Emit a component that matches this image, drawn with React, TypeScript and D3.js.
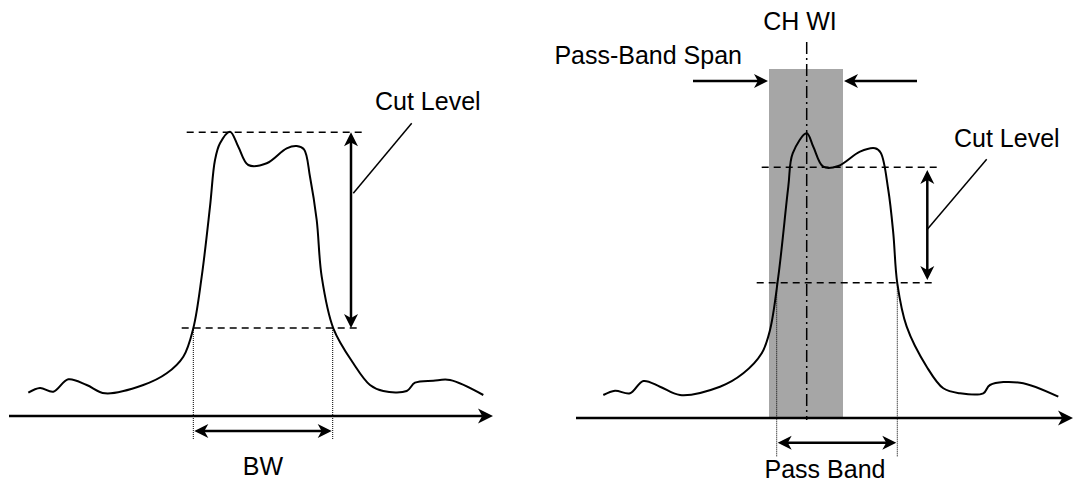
import React from "react";
import * as d3 from "d3";

// Spectrum traces: [frequency offset, level] in panel units (axis at level 0)
const leftTrace: [number, number][] = [
  [18.3, 23.3], [30, 28], [43.3, 24.3], [58.3, 36.7], [76.7, 31], [95, 22.7],
  [133.3, 31], [156.7, 42.7], [173.3, 59.3], [183.3, 87.7], [191.7, 139.3],
  [200, 209.3], [205, 256], [210, 272.7], [220, 284.3], [228.3, 269.3],
  [238.3, 251], [256.7, 252.7], [276.7, 267.7], [286.7, 270], [294, 266.7],
  [300, 239.3], [306.7, 196], [311.7, 139.3], [323.3, 87.7], [343.3, 52.7],
  [360, 31], [373.3, 25], [396.7, 25], [405, 33.3], [423.3, 35.3], [440, 36],
  [473.3, 21],
];

const rightTrace: [number, number][] = [
  [27.3, 23], [39, 27.3], [54, 24.7], [67.3, 37], [84, 31.3], [104, 23],
  [144, 31.3], [167.3, 44.7], [185.7, 64.7], [194, 88], [202.3, 141.3],
  [212.3, 231.3], [216.7, 264.7], [230.7, 284.7], [237.3, 271.3],
  [247.3, 251.3], [262.3, 252], [284, 266.3], [299, 269.7], [304.7, 265.3],
  [312.3, 228], [317.3, 184.7], [321.3, 134.7], [330.7, 91.3], [350.7, 51.3],
  [367.3, 29.7], [384, 24.7], [407.3, 24.7], [414, 33], [444, 35.3],
  [482.3, 21.3],
];

// Left panel annotation values
const leftCutLevels = [283.7, 88];
const leftBwEdges = [183.3, 322.7];
// Right panel annotation values
const rightCutLevels = [250.7, 135.3];
const rightPassEdges = [200.7, 321.3];
const spanEdges = [193, 267];
const chCenter = 230.7;

const labels = {
  cut: "Cut Level",
  bw: "BW",
  ch: "CH WI",
  span: "Pass-Band Span",
  pass: "Pass Band",
};

const FONT = "'Liberation Sans', Arial, sans-serif";
const FS = 25;

function Arrowhead({ x, y, angle, len = 15, half = 7.5 }: { x: number; y: number; angle: number; len?: number; half?: number }) {
  const notch = len * 0.72;
  const d = `M0,0 L${-len},${-half} L${-notch},0 L${-len},${half} Z`;
  return <path d={d} transform={`translate(${x},${y}) rotate(${angle})`} fill="#000" />;
}

function Panel({
  x0, yAxis, trace, children,
}: { x0: number; yAxis: number; trace: [number, number][]; children: (x: any, y: any) => React.ReactNode }) {
  const x = d3.scaleLinear().domain([0, 480]).range([x0, x0 + 480]);
  const y = d3.scaleLinear().domain([0, 300]).range([yAxis, yAxis - 300]);
  const line = d3.line<[number, number]>().x((d) => x(d[0])).y((d) => y(d[1])).curve(d3.curveCatmullRom.alpha(0.5));
  return <g>{children(x, y)}<path d={line(trace) || ""} fill="none" stroke="#000" strokeWidth={2} strokeLinejoin="round" /></g>;
}

export default function App() {
  return (
    <svg width={1074} height={485} style={{ position: "absolute", left: 0, top: 0, background: "#fff" }} fontFamily={FONT}>
      <rect x={0} y={0} width={1074} height={485} fill="#fff" />
      {/* Left panel */}
      <Panel x0={10} yAxis={416} trace={leftTrace}>
        {(x, y) => (
          <g>
            {/* dashed cut lines */}
            <line x1={x(176.7)} x2={x(351.7)} y1={y(leftCutLevels[0])} y2={y(leftCutLevels[0])} stroke="#000" strokeWidth={1.5} strokeDasharray="7,5" />
            <line x1={x(171.7)} x2={x(346.7)} y1={y(leftCutLevels[1])} y2={y(leftCutLevels[1])} stroke="#000" strokeWidth={1.5} strokeDasharray="7,5" />
            {/* vertical double arrow */}
            <line x1={x(341)} x2={x(341)} y1={y(leftCutLevels[0]) + 8} y2={y(leftCutLevels[1]) - 8} stroke="#000" strokeWidth={2.5} />
            <Arrowhead x={x(341)} y={y(leftCutLevels[0])} angle={-90} len={14} half={7} />
            <Arrowhead x={x(341)} y={y(leftCutLevels[1])} angle={90} len={14} half={7} />
            {/* leader */}
            <line x1={x(343.3)} y1={y(222.7)} x2={x(401.7)} y2={y(292.7)} stroke="#000" strokeWidth={1.5} />
            <text x={x(365)} y={y(306.5)} fontSize={FS}>{labels.cut}</text>
            {/* dotted verticals */}
            {leftBwEdges.map((f, i) => (
              <line key={i} x1={x(f)} x2={x(f)} y1={y(leftCutLevels[1])} y2={y(-24)} stroke="#000" strokeWidth={1} strokeDasharray="1,1" />
            ))}
            {/* BW arrow */}
            <line x1={x(leftBwEdges[0]) + 8} x2={x(leftBwEdges[1]) - 8} y1={y(-15)} y2={y(-15)} stroke="#000" strokeWidth={2.5} />
            <Arrowhead x={x(leftBwEdges[0]) + 1} y={y(-15)} angle={180} len={14} half={7} />
            <Arrowhead x={x(leftBwEdges[1]) - 1} y={y(-15)} angle={0} len={14} half={7} />
            <text x={x(253)} y={y(-59)} fontSize={FS} textAnchor="middle">{labels.bw}</text>
            {/* axis */}
            <line x1={x(-1)} x2={x(472)} y1={y(0)} y2={y(0)} stroke="#000" strokeWidth={2.5} />
            <Arrowhead x={x(483)} y={y(0)} angle={0} />
          </g>
        )}
      </Panel>
      {/* Right panel */}
      <Panel x0={576} yAxis={418} trace={rightTrace}>
        {(x, y) => (
          <g>
            <rect x={x(spanEdges[0])} y={y(349)} width={x(spanEdges[1]) - x(spanEdges[0])} height={y(0) - y(349)} fill="#a6a6a6" />
            <line x1={x(chCenter)} x2={x(chCenter)} y1={y(376)} y2={y(-2)} stroke="#000" strokeWidth={1.5} strokeDasharray="12,4,2,4" />
            <text x={x(224)} y={y(388.5)} fontSize={FS} textAnchor="middle">{labels.ch}</text>
            <text x={x(166)} y={y(354)} fontSize={FS} textAnchor="end">{labels.span}</text>
            {/* span arrows */}
            <line x1={x(117)} x2={x(spanEdges[0]) - 8} y1={y(337)} y2={y(337)} stroke="#000" strokeWidth={2.5} />
            <Arrowhead x={x(spanEdges[0]) - 1} y={y(337)} angle={0} len={14} half={7} />
            <line x1={x(341)} x2={x(spanEdges[1]) + 8} y1={y(337)} y2={y(337)} stroke="#000" strokeWidth={2.5} />
            <Arrowhead x={x(spanEdges[1]) + 1} y={y(337)} angle={180} len={14} half={7} />
            {/* dashed cut lines */}
            <line x1={x(185.7)} x2={x(362.3)} y1={y(rightCutLevels[0])} y2={y(rightCutLevels[0])} stroke="#000" strokeWidth={1.5} strokeDasharray="7,5" />
            <line x1={x(180.7)} x2={x(357.3)} y1={y(rightCutLevels[1])} y2={y(rightCutLevels[1])} stroke="#000" strokeWidth={1.5} strokeDasharray="7,5" />
            {/* vertical double arrow */}
            <line x1={x(351.3)} x2={x(351.3)} y1={y(248) + 8} y2={y(138) - 8} stroke="#000" strokeWidth={2.5} />
            <Arrowhead x={x(351.3)} y={y(248)} angle={-90} len={14} half={7} />
            <Arrowhead x={x(351.3)} y={y(138)} angle={90} len={14} half={7} />
            <line x1={x(350.7)} y1={y(188)} x2={x(410.7)} y2={y(258.7)} stroke="#000" strokeWidth={1.5} />
            <text x={x(378)} y={y(271)} fontSize={FS}>{labels.cut}</text>
            {/* dotted verticals */}
            {rightPassEdges.map((f, i) => (
              <line key={i} x1={x(f)} x2={x(f)} y1={y(rightCutLevels[1])} y2={y(-39)} stroke="#000" strokeWidth={1} strokeDasharray="1,1" />
            ))}
            <line x1={x(rightPassEdges[0]) + 8} x2={x(rightPassEdges[1]) - 8} y1={y(-24.7)} y2={y(-24.7)} stroke="#000" strokeWidth={2.5} />
            <Arrowhead x={x(rightPassEdges[0]) + 1} y={y(-24.7)} angle={180} len={14} half={7} />
            <Arrowhead x={x(rightPassEdges[1]) - 1} y={y(-24.7)} angle={0} len={14} half={7} />
            <text x={x(249)} y={y(-60)} fontSize={FS} textAnchor="middle">{labels.pass}</text>
            <line x1={x(0)} x2={x(486)} y1={y(0)} y2={y(0)} stroke="#000" strokeWidth={2.5} />
            <Arrowhead x={x(497)} y={y(0)} angle={0} />
          </g>
        )}
      </Panel>
    </svg>
  );
}
